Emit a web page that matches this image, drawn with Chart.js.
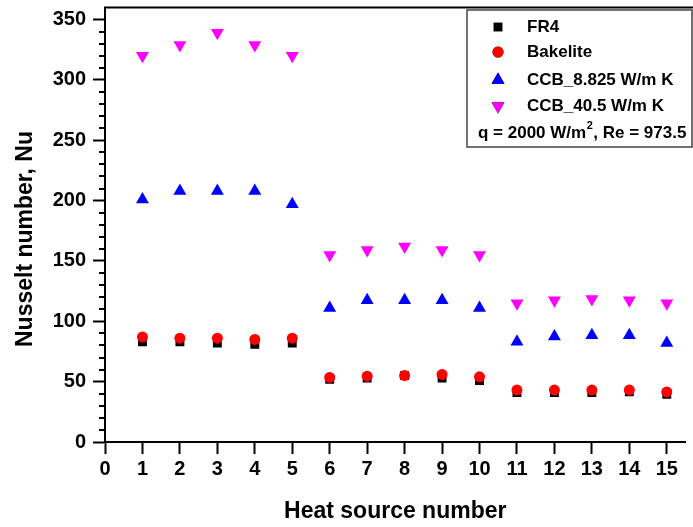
<!DOCTYPE html>
<html>
<head>
<meta charset="utf-8">
<script src="https://cdn.jsdelivr.net/npm/chart.js@4.4.0/dist/chart.umd.min.js"></script>
<style>
  html, body { margin: 0; padding: 0; background: #fff; }
  #wrap { width: 693px; height: 527px; }
</style>
</head>
<body>
<div id="wrap"><canvas id="nuChart" width="693" height="527"></canvas></div>
<script>
// data
var heatSource = [1, 2, 3, 4, 5, 6, 7, 8, 9, 10, 11, 12, 13, 14, 15];
var fr4 = [83, 83, 82, 81, 82, 52, 53, 55, 53, 51, 41, 41, 41, 41.5, 39.5];
var bakelite = [87, 86, 86, 85, 86, 53.5, 54.5, 55, 56, 54, 43, 43, 43, 43, 41.5];
var ccb8825 = [201, 208, 208, 208, 197, 111, 117.5, 117.5, 117.5, 111, 83, 87.5, 88.5, 88.5, 82];
var ccb405 = [320, 329, 339, 329, 320, 155, 159, 162, 159, 155, 115, 117.5, 118.5, 117.5, 115];

var seriesNames = ["FR4", "Bakelite", "CCB_8.825 W/m K", "CCB_40.5 W/m K"];
var xTicks = [0].concat(heatSource);
var yMajorTicks = [0, 50, 100, 150, 200, 250, 300, 350];

var FONT = "'Liberation Sans', Arial, sans-serif";

function pts(ys) {
    return heatSource.map(function (x, i) { return { x: x, y: ys[i] }; });
}

// minor ticks on y, top frame line, y title
var framePlugin = {
    id: "frame",
    afterDraw: function (chart) {
        var ctx = chart.ctx;
        var y = chart.scales.y;
        var a = chart.chartArea;
        ctx.save();
        ctx.strokeStyle = "#000";
        ctx.lineWidth = 2;
        for (var v = 10; v < 350; v += 10) {
            if (v % 50 === 0) continue;
            var py = Math.round(y.getPixelForValue(v));
            ctx.beginPath();
            ctx.moveTo(a.left - 6, py);
            ctx.lineTo(a.left, py);
            ctx.stroke();
        }
        ctx.beginPath();
        ctx.moveTo(a.left - 1, a.top);
        ctx.lineTo(chart.width, a.top);
        ctx.stroke();

        ctx.translate(26, 239);
        ctx.rotate(-Math.PI / 2);
        ctx.fillStyle = "#000";
        ctx.font = "bold 23px " + FONT;
        ctx.textAlign = "center";
        ctx.textBaseline = "middle";
        ctx.fillText("Nusselt number, Nu", 0, 0);
        ctx.restore();
    }
};

// boxed legend in the top right corner
var legendPlugin = {
    id: "boxLegend",
    afterDraw: function (chart) {
        var ctx = chart.ctx;
        var left = 467, top = 10, right = 692, bottom = 147;
        ctx.save();
        ctx.fillStyle = "#fff";
        ctx.fillRect(left, top, right - left, bottom - top);
        ctx.strokeStyle = "#444";
        ctx.lineWidth = 1.5;
        ctx.strokeRect(left, top, right - left, bottom - top);

        var rows = [27, 52, 80, 106];
        chart.data.datasets.forEach(function (ds, i) {
            Chart.helpers.drawPoint(ctx, {
                pointStyle: ds.pointStyle,
                radius: ds.pointRadius,
                rotation: ds.rotation || 0,
                borderWidth: 0
            }, 498, rows[i]);
            ctx.fillStyle = ds.backgroundColor;
            ctx.fill();
            ctx.fillStyle = "#000";
            ctx.font = "bold 17px " + FONT;
            ctx.textBaseline = "middle";
            ctx.textAlign = "left";
            ctx.fillText(ds.label, 527, rows[i]);
        });

        // condition line with superscript
        ctx.font = "bold 17px " + FONT;
        var x = 478, yq = 133;
        var s1 = "q = 2000 W/m";
        ctx.fillText(s1, x, yq);
        x += ctx.measureText(s1).width;
        ctx.font = "bold 11px " + FONT;
        ctx.fillText("2", x + 0.5, yq - 7);
        x += ctx.measureText("2").width + 1;
        ctx.font = "bold 17px " + FONT;
        ctx.fillText(", Re = 973.5", x, yq);
        ctx.restore();
    }
};

new Chart("nuChart", {
    type: "scatter",
    data: {
        datasets: [{
            label: seriesNames[0],
            data: pts(fr4),
            pointStyle: "rect",
            pointRadius: 6.3,
            backgroundColor: "#000000",
            borderWidth: 0,
            order: 4
        }, {
            label: seriesNames[1],
            data: pts(bakelite),
            pointStyle: "circle",
            pointRadius: 5.5,
            backgroundColor: "#ff0000",
            borderWidth: 0,
            order: 3
        }, {
            label: seriesNames[2],
            data: pts(ccb8825),
            pointStyle: "triangle",
            pointRadius: 7.5,
            backgroundColor: "#0000ff",
            borderWidth: 0,
            order: 2
        }, {
            label: seriesNames[3],
            data: pts(ccb405),
            pointStyle: "triangle",
            rotation: 180,
            pointRotation: 180,
            pointRadius: 7.5,
            backgroundColor: "#ff00ff",
            borderWidth: 0,
            order: 1
        }]
    },
    options: {
        responsive: false,
        animation: false,
        layout: { padding: { top: 5, right: 1, left: 0, bottom: 0 } },
        plugins: {
            legend: { display: false },
            tooltip: { enabled: false }
        },
        scales: {
            x: {
                type: "linear",
                min: 0,
                max: 15.5,
                afterBuildTicks: function (s) {
                    s.ticks = xTicks.map(function (v) { return { value: v }; });
                },
                afterFit: function (s) {
                    s.height = 85;
                    s.paddingLeft = 0;
                    s.paddingRight = 0;
                },
                ticks: {
                    stepSize: 1,
                    color: "#000",
                    padding: 3,
                    maxRotation: 0,
                    autoSkip: false,
                    font: { family: FONT, size: 20, weight: "bold" }
                },
                grid: {
                    drawOnChartArea: false,
                    drawTicks: true,
                    tickLength: 12,
                    tickWidth: 2,
                    tickColor: "#000"
                },
                border: { color: "#000", width: 2 },
                title: {
                    display: true,
                    text: "Heat source number",
                    color: "#000",
                    padding: { top: 0, bottom: 2 },
                    font: { family: FONT, size: 23, weight: "bold" }
                }
            },
            y: {
                min: 0,
                max: 360,
                afterBuildTicks: function (s) {
                    s.ticks = yMajorTicks.map(function (v) { return { value: v }; });
                },
                afterFit: function (s) {
                    s.width = 105;
                    s.paddingTop = 0;
                    s.paddingBottom = 0;
                },
                ticks: {
                    stepSize: 50,
                    color: "#000",
                    padding: 7,
                    font: { family: FONT, size: 20, weight: "bold" }
                },
                grid: {
                    drawOnChartArea: false,
                    drawTicks: true,
                    tickLength: 12,
                    tickWidth: 2,
                    tickColor: "#000"
                },
                border: { color: "#000", width: 2 },
                title: { display: false }
            }
        }
    },
    plugins: [framePlugin, legendPlugin]
});
</script>
</body>
</html>
